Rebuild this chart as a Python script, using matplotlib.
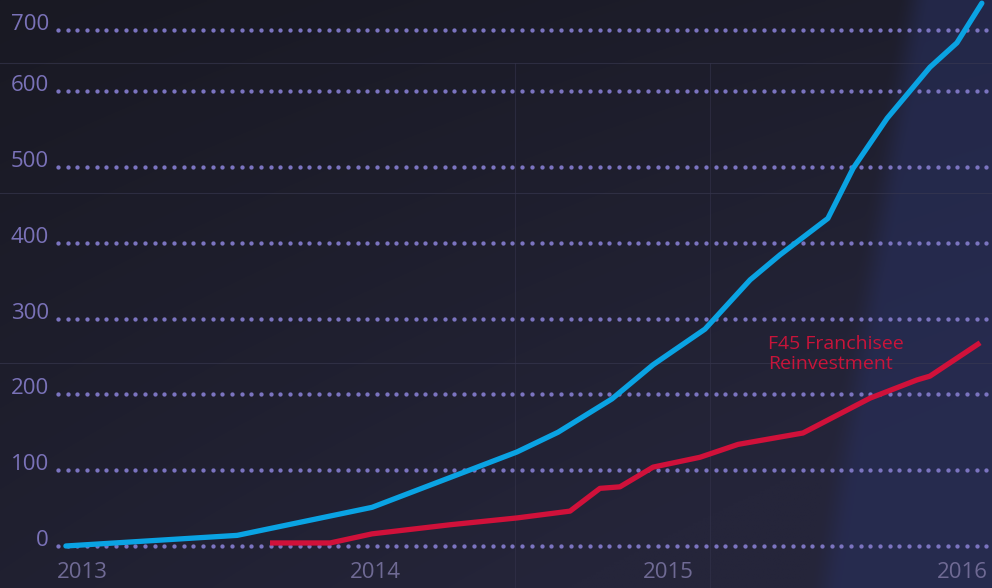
import numpy as np
import matplotlib
matplotlib.use("Agg")
import matplotlib.pyplot as plt
from matplotlib.colors import to_rgb

# data (x in fractional years)
blue_years = [2012.945, 2013.529, 2013.989, 2014.483, 2014.623, 2014.807, 2014.947,
              2015.124, 2015.278, 2015.380, 2015.543, 2015.629, 2015.745, 2015.891,
              2015.983, 2016.068]
blue_values = [0, 14, 51, 124, 150, 194, 239, 286, 351, 384, 432, 498, 564, 639, 679, 744]

red_years = [2013.641, 2013.846, 2013.989, 2014.255, 2014.483, 2014.664, 2014.766,
             2014.834, 2014.947, 2015.107, 2015.237, 2015.458, 2015.687, 2015.847,
             2015.891, 2016.062]
red_values = [4, 4, 16, 28, 37, 46, 76, 78, 104, 117, 134, 149, 195, 219, 224, 268]

y_ticks = [0, 100, 200, 300, 400, 500, 600, 700]
x_ticks = [2013, 2014, 2015, 2016]
red_label = "F45 Franchisee\nReinvestment"

# the artwork squeezes everything above 600
SQUEEZE = 61 / 75.83


def fwd(v):
    v = np.asarray(v, dtype=float)
    return np.where(v <= 600, v, 600 + (v - 600) * SQUEEZE)


def inv(v):
    v = np.asarray(v, dtype=float)
    return np.where(v <= 600, v, 600 + (v - 600) / SQUEEZE)


W, H = 992, 588
FONT = ["Open Sans", "DejaVu Sans"]
GRID = "#7b74c0"

fig = plt.figure(figsize=(W / 100, H / 100), dpi=100)
ax = fig.add_axes([0, 0, 1, 1])
ax.set_yscale("function", functions=(fwd, inv))
ax.set_xlim(2012.7204, 2016.1026)
ax.set_ylim(-55.4, 749.2)
ax.axis("off")

# background: dark board, darker at top left, soft bluish panel at right
xx = np.linspace(0, 1, 400)[None, :]
yy = np.linspace(0, 1, 240)[:, None]   # row 0 = bottom (origin lower)
dark = np.array(to_rgb("#191923"))
mid = np.array(to_rgb("#25253a"))
blue = np.array(to_rgb("#283060"))
t = np.clip(0.4 * xx + 0.6 * (1 - yy) + 0.3 * xx * (1 - yy), 0, 1)[..., None]
bg = dark * (1 - t) + mid * t
edge = 0.815 + 0.09 * yy
s = np.clip((xx - edge) / 0.035, 0, 1)
s = (s * s * (3 - 2 * s))[..., None] * 0.55
bg = bg * (1 - s) + blue * s
ax.imshow(bg, extent=[0, 1, 0, 1], transform=ax.transAxes, aspect="auto",
          zorder=0, interpolation="bilinear", origin="lower")

# faint seams in the board
for py in [63, 193, 363]:
    ax.plot([0, 1], [1 - py / H] * 2, transform=ax.transAxes,
            color="#3a3a52", lw=0.8, alpha=0.6, zorder=0.6)
for px in [515, 710]:
    ax.plot([px / W] * 2, [0, 1 - 63 / H], transform=ax.transAxes,
            color="#34334b", lw=0.8, alpha=0.6, zorder=0.6)

# dotted gridlines and value labels
dot_x = np.arange(58, W, 9.67) / W
ytrans = ax.get_yaxis_transform()
for v in y_ticks:
    ax.plot(dot_x, np.full(dot_x.size, v), transform=ytrans, linestyle="none",
            marker="o", markersize=3.1, markeredgewidth=0, color=GRID, zorder=1)
    ax.text(49 / W, v, str(v), transform=ytrans, ha="right", va="baseline",
            fontsize=16, color="#7a72b8", family=FONT, zorder=2)

for yr in x_ticks:
    ax.text(yr, 1 - 572 / H, str(yr), transform=ax.get_xaxis_transform(),
            ha="center", va="center", fontsize=16, color="#6f6a94",
            family=FONT, zorder=2)

ax.plot(blue_years, blue_values, color="#0aa3e3", lw=3.8,
        solid_capstyle="round", solid_joinstyle="round", zorder=3)
ax.plot(red_years, red_values, color="#d0113a", lw=3.8,
        solid_capstyle="butt", solid_joinstyle="round", zorder=3)

ax.text(768 / W, 1 - 354 / H, red_label, transform=ax.transAxes,
        ha="left", va="center", fontsize=14, color="#c8143a", family=FONT,
        linespacing=1.08, zorder=4)

fig.savefig("out.png", dpi=100)
